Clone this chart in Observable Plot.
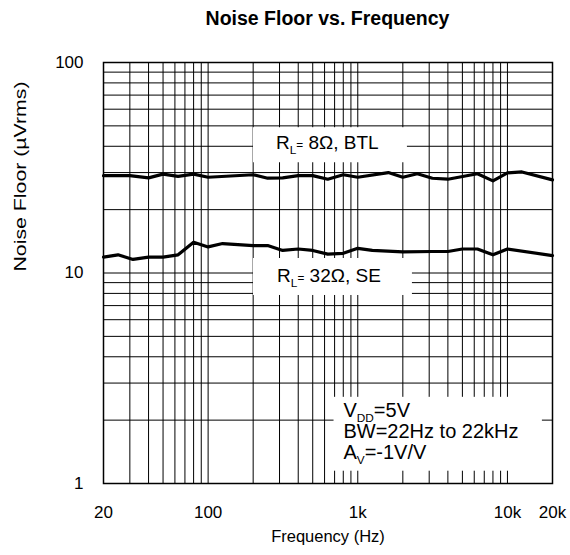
<!DOCTYPE html>
<html><head><meta charset="utf-8">
<script src="https://cdn.jsdelivr.net/npm/d3@7"></script>
<script src="https://cdn.jsdelivr.net/npm/@observablehq/plot@0.6"></script>
<style>
body{margin:0;background:#fff;font-family:"Liberation Sans",Arial,sans-serif;}
#wrap{position:relative;width:570px;height:555px;overflow:hidden;}
#title{position:absolute;left:0;top:7px;width:655px;text-align:center;font-weight:bold;font-size:19.5px;line-height:22px;color:#000;}
#chart{position:absolute;left:0;top:40px;}
</style></head><body>
<div id="wrap"><div id="title"></div><div id="chart"></div></div>
<script>
// ---- text ----
const title = "Noise Floor vs. Frequency";
const xLabel = "Frequency (Hz)";
const yLabel = "Noise Floor (µVrms)";

// ---- ticks & grid ----
const xTicks = [20, 100, 1000, 10000, 20000];
const xTickLabels = ["20", "100", "1k", "10k", "20k"];
const yTicks = [1, 10, 100];
const yTickLabels = ["1", "10", "100"];
const xGrid = [20, 30, 40, 50, 60, 70, 80, 90, 100, 200, 300, 400, 500, 600, 700, 800, 900,
               1000, 2000, 3000, 4000, 5000, 6000, 7000, 8000, 9000, 10000, 20000];
const yGrid = [1, 2, 3, 4, 5, 6, 7, 8, 9, 10, 20, 30, 40, 50, 60, 70, 80, 90, 100];

// ---- series: RL = 8 ohm, BTL ----
const freqBTL  = [20, 30, 40, 50, 63, 80, 100, 200, 250, 315, 400, 500, 630, 800, 1000, 1600, 2000, 2500, 3150, 4000, 6300, 8000, 10000, 12500, 20000];
const noiseBTL = [29.0, 29.0, 28.3, 29.5, 28.8, 29.5, 28.5, 29.3, 28.2, 28.3, 29.0, 29.0, 27.9, 29.3, 28.5, 30.0, 28.5, 29.6, 28.2, 27.9, 29.6, 27.4, 29.9, 30.2, 27.7];

// ---- series: RL = 32 ohm, SE ----
const freqSE  = [20, 25, 31.5, 40, 50, 63, 80, 100, 125, 200, 250, 315, 400, 500, 630, 800, 1000, 1250, 2000, 3150, 4000, 5000, 6300, 8000, 10000, 20000];
const noiseSE = [11.9, 12.2, 11.6, 11.9, 11.9, 12.2, 14.0, 13.3, 13.8, 13.5, 13.5, 12.8, 13.0, 12.8, 12.3, 12.4, 13.1, 12.8, 12.6, 12.65, 12.65, 13.0, 13.0, 12.2, 13.0, 12.1];

// ---- annotations (data space) ----
const curveLabels = ["R_{L}~{=} 8Ω, BTL", "R_{L}~{=} 32Ω, SE"];
const curveLabelFreq = [284, 289];
const curveLabelNoise = [38.8, 9.04];
const condText = ["V_{DD}=5V\nBW=22Hz to 22kHz\nA_{V}=-1V/V"];
const condFreq = [802];
const condNoise = [2.44];
// white label boxes
const boxF1 = [201, 201, 694];
const boxF2 = [2146, 2318, 17120];
const boxN1 = [33.4, 7.82, 1.144];
const boxN2 = [49.0, 11.72, 2.567];

document.getElementById("title").textContent = title;

const btlRows = freqBTL.map((f, i) => ({f, v: noiseBTL[i]}));
const seRows = freqSE.map((f, i) => ({f, v: noiseSE[i]}));
const boxIdx = boxF1.map((_, i) => i);
const font = "Liberation Sans, Arial, sans-serif";

const chart = Plot.plot({
  width: 570, height: 515,
  marginTop: 22, marginBottom: 72, marginLeft: 103, marginRight: 18,
  style: {fontFamily: font, fontSize: "17px", color: "#000", background: "#fff", overflow: "visible"},
  x: {type: "log", domain: [20, 20000], ticks: xTicks, tickFormat: d => xTickLabels[xTicks.indexOf(d)], tickSize: 0, tickPadding: 22, label: null},
  y: {type: "log", domain: [1, 100], ticks: yTicks, tickFormat: d => yTickLabels[yTicks.indexOf(d)], tickSize: 0, tickPadding: 20, label: null},
  marks: [
    Plot.ruleX(xGrid, {stroke: "#000", strokeWidth: 1}),
    Plot.ruleY(yGrid, {stroke: "#000", strokeWidth: 1}),
    Plot.rect(boxIdx, {x1: i => boxF1[i], x2: i => boxF2[i], y1: i => boxN1[i], y2: i => boxN2[i], fill: "#fff"}),
    Plot.line(btlRows, {x: "f", y: "v", stroke: "#000", strokeWidth: 3.2, strokeLinejoin: "round"}),
    Plot.line(seRows, {x: "f", y: "v", stroke: "#000", strokeWidth: 3.2, strokeLinejoin: "round"}),
    Plot.frame({stroke: "#000", strokeWidth: 1.5}),
    Plot.text(curveLabels, {x: (d, i) => curveLabelFreq[i], y: (d, i) => curveLabelNoise[i], text: d => d,
      textAnchor: "start", lineAnchor: "bottom", fontSize: 19, fill: "#000"}),
    Plot.text(condText, {x: (d, i) => condFreq[i], y: (d, i) => condNoise[i], text: d => d,
      textAnchor: "start", lineAnchor: "top", lineHeight: 1.05, fontSize: 20, fill: "#000"}),
    Plot.text([xLabel], {frameAnchor: "bottom", dy: 58, text: d => d, fontSize: 16.5, fill: "#000"}),
    Plot.text([yLabel], {frameAnchor: "left", dx: -82.5, dy: -1.5, rotate: -90, text: d => d, fontSize: 16, fill: "#000"})
  ]
});

// rich text: _{..} subscript, ~{..} small at baseline
const SVGNS = "http://www.w3.org/2000/svg";
function richify(el, fs) {
  const s = el.textContent;
  if (!/[_~]\{/.test(s)) return;
  while (el.firstChild) el.removeChild(el.firstChild);
  const re = /([_~])\{([^}]*)\}/g;
  let last = 0, m, cur = 0;
  const add = (txt, small, off) => {
    if (!txt) return;
    const t = document.createElementNS(SVGNS, "tspan");
    if (small) t.setAttribute("font-size", (fs * 0.62).toFixed(1));
    if (off !== cur) { t.setAttribute("dy", (off - cur).toFixed(1)); cur = off; }
    t.textContent = txt;
    el.appendChild(t);
  };
  while ((m = re.exec(s))) {
    add(s.slice(last, m.index), false, 0);
    if (m[1] === "_") add(m[2], true, fs * 0.25);
    else add(m[2], true, 0);
    last = m.index + m[0].length;
  }
  add(s.slice(last), false, 0);
}
d3.select(chart).selectAll("text, tspan").each(function () {
  const leaf = Array.from(this.childNodes).every(n => n.nodeType === 3);
  if (!leaf) return;
  const fs = parseFloat(getComputedStyle(this).fontSize) || 19;
  richify(this, fs);
});
d3.select(chart).selectAll("text").filter(function () { return this.textContent === yLabel; })
  .attr("textLength", 190).attr("lengthAdjust", "spacingAndGlyphs");

document.getElementById("chart").appendChild(chart);
</script>
</body></html>
